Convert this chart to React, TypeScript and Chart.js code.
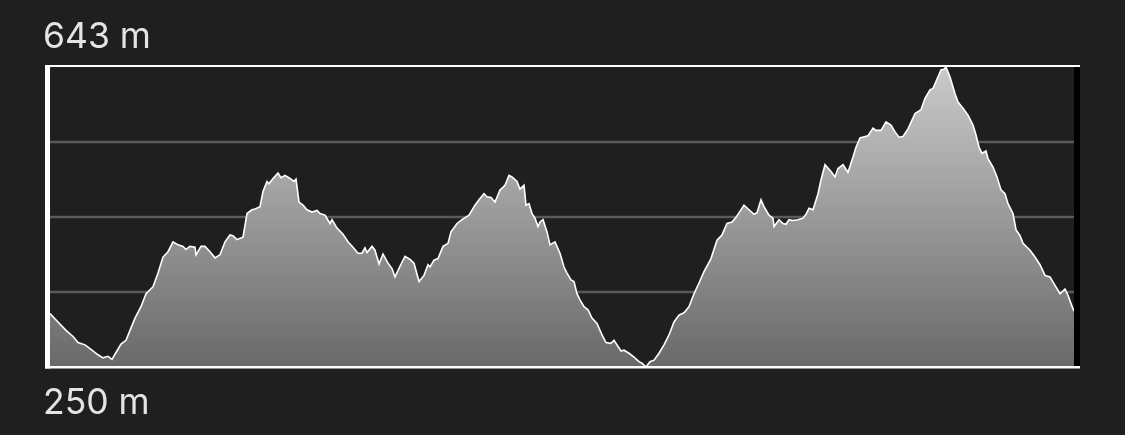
import React, { useEffect, useRef } from "react";
import { Chart, registerables } from "chart.js";

Chart.register(...registerables);

// distance along the route (arbitrary units, 0..1024)
const distance: number[] = [
  0, 8, 16, 23, 28, 35, 41, 48, 53, 58, 62, 66, 71, 76, 80, 85, 91, 96, 103, 108,
  113, 118, 123, 128, 133, 136, 140, 145, 146, 151, 155, 160, 165, 170, 175, 180, 183, 187, 193, 197,
  202, 205, 210, 213, 217, 219, 223, 228, 231, 235, 240, 244, 246, 249, 253, 257, 262, 267, 270, 275,
  280, 282, 287, 293, 298, 303, 308, 312, 315, 317, 322, 325, 329, 333, 338, 342, 345, 350, 355, 360,
  364, 369, 374, 378, 380, 384, 388, 393, 398, 401, 407, 412, 419, 425, 429, 434, 437, 441, 445, 450,
  455, 459, 462, 467, 470, 474, 476, 479, 482, 485, 488, 490, 493, 497, 500, 505, 510, 514, 517, 521,
  524, 527, 530, 534, 538, 542, 547, 552, 556, 561, 564, 567, 571, 574, 579, 584, 589, 592, 596, 600,
  604, 609, 614, 619, 624, 629, 634, 639, 644, 649, 654, 661, 667, 672, 677, 682, 686, 694, 699, 704,
  707, 711, 714, 719, 723, 724, 729, 733, 736, 739, 743, 748, 753, 756, 759, 763, 768, 771, 775, 781,
  785, 788, 793, 798, 803, 806, 810, 818, 823, 826, 831, 836, 841, 845, 849, 853, 858, 865, 871, 875,
  880, 883, 886, 891, 894, 896, 900, 905, 908, 913, 918, 923, 926, 929, 932, 936, 938, 943, 947, 951,
  955, 958, 963, 966, 970, 973, 980, 985, 990, 995, 1000, 1005, 1010, 1015, 1018, 1021, 1024,
];

// elevation in metres
const elevation: number[] = [
  320, 309, 298, 290, 282, 279, 273, 266, 262, 264, 260, 269, 280, 285, 298, 314, 329, 346, 355, 373,
  394, 401, 414, 410, 408, 404, 408, 407, 397, 408, 408, 401, 393, 397, 414, 423, 422, 417, 420, 451,
  456, 457, 460, 480, 493, 490, 497, 504, 498, 501, 497, 493, 496, 466, 462, 456, 453, 455, 451, 449,
  438, 443, 432, 424, 414, 407, 399, 399, 406, 400, 408, 403, 385, 398, 386, 379, 368, 382, 395, 391,
  386, 362, 370, 384, 381, 390, 392, 408, 412, 427, 438, 443, 449, 462, 469, 477, 473, 472, 466, 482,
  488, 501, 499, 493, 483, 488, 462, 464, 451, 445, 434, 440, 443, 427, 410, 414, 399, 381, 373, 364,
  362, 346, 338, 329, 325, 314, 307, 292, 282, 281, 285, 279, 271, 272, 268, 263, 257, 255, 250, 257,
  259, 268, 279, 292, 309, 318, 321, 329, 346, 360, 375, 392, 416, 423, 438, 440, 446, 462, 456, 450,
  452, 469, 460, 449, 445, 434, 443, 438, 437, 443, 442, 443, 445, 450, 458, 456, 477, 495, 515, 506,
  499, 510, 515, 505, 525, 538, 550, 553, 563, 560, 560, 571, 567, 558, 551, 552, 562, 582, 587, 602,
  613, 615, 624, 639, 640, 643, 630, 608, 597, 589, 580, 567, 554, 538, 530, 533, 523, 512, 499, 482,
  477, 464, 451, 430, 422, 412, 403, 394, 384, 370, 368, 357, 346, 352, 344, 333, 323,
];

const yMin = 250;
const yMax = 643;
const gridValues: number[] = [348.25, 446.5, 544.75];
const topLabel = "643 m";
const bottomLabel = "250 m";

const BG = "#1f1f1f";

export default function App() {
  const ref = useRef<HTMLCanvasElement | null>(null);

  useEffect(() => {
    const canvas = ref.current;
    if (!canvas) return;

    const framePlugin = {
      id: "frame",
      beforeDatasetsDraw(chart: any) {
        const { ctx, chartArea, scales } = chart;
        ctx.save();
        ctx.strokeStyle = "#5a5a5a";
        ctx.lineWidth = 2.5;
        for (const v of gridValues) {
          const y = scales.y.getPixelForValue(v);
          ctx.beginPath();
          ctx.moveTo(chartArea.left, y);
          ctx.lineTo(chartArea.right, y);
          ctx.stroke();
        }
        ctx.restore();
      },
      afterDatasetsDraw(chart: any) {
        const { ctx, chartArea } = chart;
        ctx.save();
        const l = chartArea.left - 5;
        const r = chartArea.right + 6;
        const t = chartArea.top - 1;
        const b = chartArea.bottom;
        // right black bar
        ctx.fillStyle = "#000000";
        ctx.fillRect(chartArea.right, t, 6, b - t);
        // white frame
        ctx.fillStyle = "#ffffff";
        ctx.fillRect(l, t - 1, r - l, 2);
        ctx.fillRect(l, b - 1, r - l, 2.5);
        ctx.fillRect(l, t - 1, 5, b - t + 2.5);
        // labels
        ctx.fillStyle = "#e4e4e4";
        ctx.font = "35.5px Inter, 'Noto Sans', sans-serif";
        ctx.textBaseline = "alphabetic";
        ctx.textAlign = "left";
        ctx.fillText(topLabel, l - 2, 48);
        ctx.fillText(bottomLabel, l - 2, 414);
        ctx.restore();
      },
    };

    const chart = new Chart(canvas, {
      type: "line",
      data: {
        datasets: [
          {
            data: distance.map((d, i) => ({ x: d, y: elevation[i] })),
            borderColor: "#ffffff",
            borderWidth: 1.6,
            pointRadius: 0,
            tension: 0,
            fill: "start",
            backgroundColor: (c: any) => {
              const area = c.chart.chartArea;
              if (!area) return "#999999";
              const g = c.chart.ctx.createLinearGradient(0, area.top, 0, area.bottom);
              g.addColorStop(0, "#cacaca");
              g.addColorStop(1, "#696969");
              return g;
            },
          },
        ],
      },
      options: {
        responsive: false,
        maintainAspectRatio: false,
        animation: false,
        layout: { padding: { left: 50, right: 51, top: 67, bottom: 68 } },
        plugins: {
          legend: { display: false },
          tooltip: { enabled: false },
        },
        scales: {
          x: { type: "linear", min: 0, max: 1024, display: false },
          y: { type: "linear", min: yMin, max: yMax, display: false },
        },
      },
      plugins: [framePlugin],
    });

    return () => chart.destroy();
  }, []);

  return (
    <div
      style={{
        position: "fixed",
        left: 0,
        top: 0,
        width: 1125,
        height: 435,
        background: BG,
      }}
    >
      <canvas ref={ref} width={1125} height={435} style={{ display: "block" }} />
    </div>
  );
}
